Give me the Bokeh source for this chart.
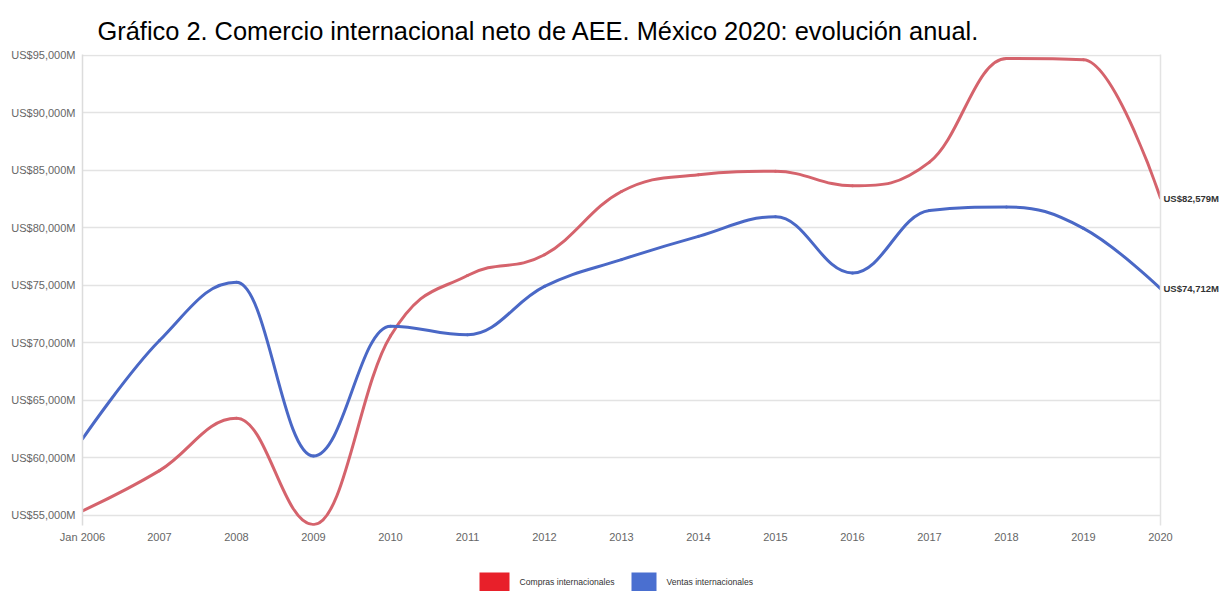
from bokeh.plotting import figure
from bokeh.layouts import column
from bokeh.models import Range1d, FixedTicker, LinearAxis, ColumnDataSource
from bokeh.core.properties import value
from bokeh.embed import file_html
from bokeh.resources import INLINE

# ---------------- data ----------------
years = [2006, 2007, 2008, 2009, 2010, 2011, 2012, 2013, 2014, 2015, 2016, 2017, 2018, 2019, 2020]
year_labels = ["Jan 2006", "2007", "2008", "2009", "2010", "2011", "2012", "2013", "2014",
               "2015", "2016", "2017", "2018", "2019", "2020"]
compras = [55400, 58900, 63450, 54200, 70600, 75850, 77650, 83150, 84600, 84900,
           83640, 85700, 94700, 94600, 82579]
ventas = [61650, 70200, 75260, 60170, 71450, 70700, 74900, 77230, 79250, 80950,
          76070, 81500, 81800, 79950, 74712]
y_ticks = [55000, 60000, 65000, 70000, 75000, 80000, 85000, 90000, 95000]
series_names = ["Compras internacionales", "Ventas internacionales"]

TITLE = "Gráfico 2. Comercio internacional neto de AEE. México 2020: evolución anual."

LINE_COLORS = ["#d5636c", "#4a68c6"]
LEGEND_COLORS = ["#e8202a", "#4a6fd0"]
FONT = "Liberation Sans"

# page layout
W, H = 1224, 591
BORDER_L, BORDER_R, BORDER_T, BORDER_B = 82, 64, 54, 31
LEG_H = 35
# legend layout (page pixels)
LEG_BOX_LEFT = [479, 631]
LEG_BOX_W = [30, 25]
LEG_TEXT_GAP = 10


def spline_segments(xs, ys, smoothing=1.5):
    """Highcharts-style spline control points."""
    n = len(xs)
    lc = [(xs[i], ys[i]) for i in range(n)]
    rc = [(xs[i], ys[i]) for i in range(n)]
    denom = smoothing + 1
    for i in range(1, n - 1):
        px, py = xs[i], ys[i]
        lx, ly = xs[i - 1], ys[i - 1]
        nx, ny = xs[i + 1], ys[i + 1]
        lcx = (smoothing * px + lx) / denom
        lcy = (smoothing * py + ly) / denom
        rcx = (smoothing * px + nx) / denom
        rcy = (smoothing * py + ny) / denom
        corr = (rcy - lcy) * (rcx - px) / (rcx - lcx) + py - rcy
        lcy += corr
        rcy += corr
        if lcy > ly and lcy > py:
            lcy = max(ly, py); rcy = 2 * py - lcy
        elif lcy < ly and lcy < py:
            lcy = min(ly, py); rcy = 2 * py - lcy
        if rcy > ny and rcy > py:
            rcy = max(ny, py); lcy = 2 * py - rcy
        elif rcy < ny and rcy < py:
            rcy = min(ny, py); lcy = 2 * py - rcy
        lc[i] = (lcx, lcy)
        rc[i] = (rcx, rcy)
    d = dict(x0=[], y0=[], x1=[], y1=[], cx0=[], cy0=[], cx1=[], cy1=[])
    for i in range(1, n):
        d["x0"].append(xs[i - 1]); d["y0"].append(ys[i - 1])
        d["cx0"].append(rc[i - 1][0]); d["cy0"].append(rc[i - 1][1])
        d["cx1"].append(lc[i][0]); d["cy1"].append(lc[i][1])
        d["x1"].append(xs[i]); d["y1"].append(ys[i])
    return d


p = figure(width=W, height=H - LEG_H, output_backend="svg", toolbar_location=None,
           x_range=Range1d(years[0], years[-1]), y_range=Range1d(54130, 95050),
           min_border_left=BORDER_L, min_border_right=BORDER_R,
           min_border_top=BORDER_T, min_border_bottom=BORDER_B)
p.outline_line_color = None
p.background_fill_color = "white"
p.border_fill_color = "white"

p.title.text = TITLE
p.title.align = "left"
p.title.offset = 15
p.title.text_font = FONT
p.title.text_font_style = "normal"
p.title.text_font_size = "25.4px"
p.title.text_color = "#000000"
p.title.standoff = 19

# axes
p.xaxis.ticker = FixedTicker(ticks=years)
p.xaxis.major_label_overrides = {y: lab for y, lab in zip(years, year_labels)}
p.xaxis.axis_line_color = None
p.xaxis.major_tick_line_color = None
p.xaxis.minor_tick_line_color = None
p.xaxis.major_tick_in = 0
p.xaxis.major_tick_out = 0
p.xaxis.minor_tick_in = 0
p.xaxis.minor_tick_out = 0
p.xaxis.major_label_standoff = 5
p.xaxis.major_label_text_font = FONT
p.xaxis.major_label_text_font_size = "11px"
p.xaxis.major_label_text_color = "#666666"

p.yaxis.ticker = FixedTicker(ticks=y_ticks)
p.yaxis.major_label_overrides = {v: f"US${v:,}M" for v in y_ticks}
p.yaxis.axis_line_color = "#dcdcdc"
p.yaxis.axis_line_width = 1.5
p.yaxis.major_tick_line_color = None
p.yaxis.minor_tick_line_color = None
p.yaxis.major_tick_in = 0
p.yaxis.major_tick_out = 0
p.yaxis.minor_tick_in = 0
p.yaxis.minor_tick_out = 0
p.yaxis.major_label_standoff = 7
p.yaxis.major_label_text_font = FONT
p.yaxis.major_label_text_font_size = "11px"
p.yaxis.major_label_text_color = "#666666"

p.xgrid.grid_line_color = None
p.ygrid.grid_line_color = "#e3e3e3"
p.ygrid.grid_line_width = 1.5

# right axis carrying the end-of-series value labels
end_vals = [compras[-1], ventas[-1]]
raxis = LinearAxis(ticker=FixedTicker(ticks=end_vals),
                   major_label_overrides={v: f"US${v:,}M" for v in end_vals},
                   axis_line_color="#e3e3e3", axis_line_width=1.5,
                   major_tick_line_color=None, minor_tick_line_color=None,
                   major_tick_in=0, major_tick_out=0, minor_tick_in=0, minor_tick_out=0,
                   major_label_standoff=3, major_label_text_font=FONT,
                   major_label_text_font_style="bold", major_label_text_font_size="9.5px",
                   major_label_text_color="#333333")
p.add_layout(raxis, "right")

# series
for vals, col in zip([compras, ventas], LINE_COLORS):
    src = ColumnDataSource(spline_segments(years, vals))
    p.bezier(x0="x0", y0="y0", x1="x1", y1="y1", cx0="cx0", cy0="cy0", cx1="cx1", cy1="cy1",
             source=src, line_color=col, line_width=3, line_cap="round")

# legend strip: same side borders as the chart so x maps to page pixels
lg = figure(width=W, height=LEG_H, output_backend="svg", toolbar_location=None,
            x_range=Range1d(BORDER_L, W - BORDER_R), y_range=Range1d(0, LEG_H),
            min_border_left=BORDER_L, min_border_right=BORDER_R,
            min_border_top=0, min_border_bottom=0)
lg.axis.visible = False
lg.grid.visible = False
lg.outline_line_color = None
lg.background_fill_color = "white"
lg.border_fill_color = "white"
lg.quad(left=LEG_BOX_LEFT, right=[l + w for l, w in zip(LEG_BOX_LEFT, LEG_BOX_W)],
        top=[LEG_H - 16] * 2, bottom=[-1] * 2, fill_color=LEGEND_COLORS, line_color=None)
lg.text(x=[l + w + LEG_TEXT_GAP for l, w in zip(LEG_BOX_LEFT, LEG_BOX_W)],
        y=[LEG_H - 25] * 2, text=series_names, text_font=value(FONT),
        text_font_size="8.6px", text_color="#333333", text_baseline="middle",
        text_align="left")

layout = column(p, lg, spacing=0)
open("out.html", "w").write(file_html(layout, INLINE))
